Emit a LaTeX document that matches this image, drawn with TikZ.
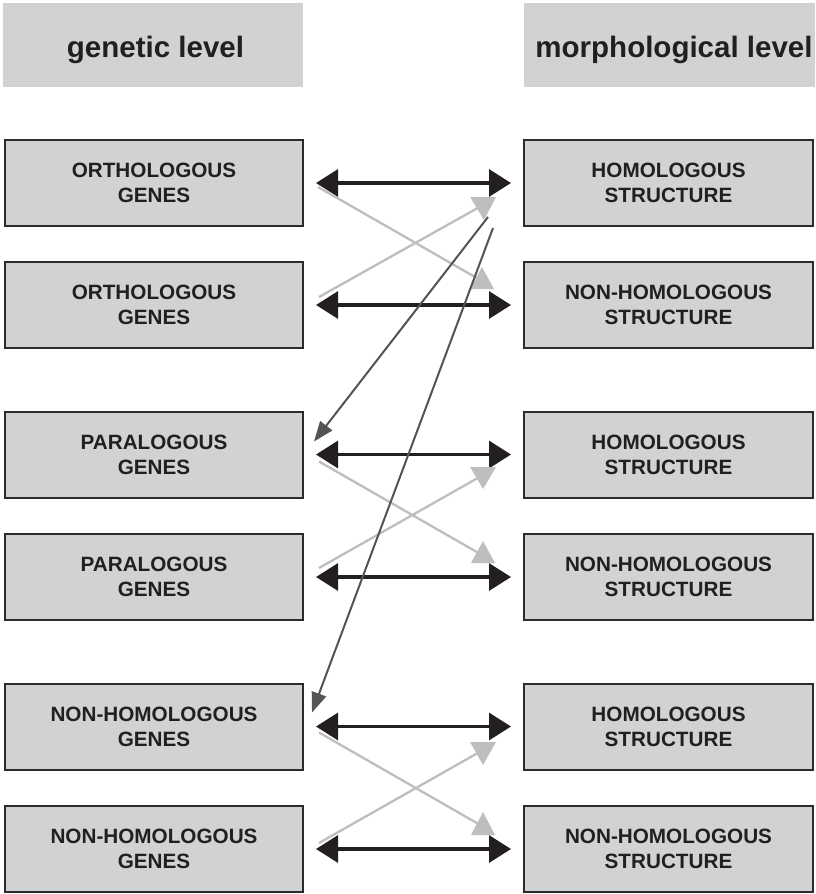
\documentclass[tikz,border=0pt]{standalone}
\usepackage{fontspec}
\setmainfont{Liberation Sans}
\usetikzlibrary{arrows.meta}
\definecolor{boxfill}{HTML}{D1D2D4}
\definecolor{boxline}{HTML}{2B2B2B}
\definecolor{blk}{HTML}{231F20}
\definecolor{lgray}{HTML}{BCBEC0}
\definecolor{dgray}{HTML}{535456}
\begin{document}
\begin{tikzpicture}[x=1pt,y=-1pt,
  hdr/.style={fill=boxfill, minimum width=#1, minimum height=84pt, inner sep=0pt},
  hdrtext/.style={text=blk, inner sep=0pt, font=\fontsize{29.5}{30}\selectfont\bfseries},
  gbox/.style={draw=boxline, line width=2pt, fill=boxfill, minimum width=298pt,
    minimum height=86pt, inner sep=0pt, align=center, text=blk,
    font=\fontsize{20.7}{25}\selectfont\bfseries},
  mbox/.style={gbox, minimum width=289pt},
  blkarrow/.style={draw=blk, line width=3.2pt, shorten <=12pt, shorten >=12pt,
    {Triangle[length=22pt,width=27pt]}-{Triangle[length=22pt,width=27pt]}},
  glink/.style={draw=lgray, line width=2.3pt},
  gtip/.style={fill=lgray},
  dlink/.style={draw=dgray, line width=2pt, -{Triangle[length=20pt,width=15pt]}}
]
\useasboundingbox (0,0) rectangle (815,894);
\fill[white] (0,0) rectangle (815,894);

% headers
\node[hdr=300pt] (hg) at (153,45) {};
\node[hdr=291pt] (hm) at (669.5,45) {};
\node[hdrtext] (hgt) at (155.5,50) {genetic level};
\node[hdrtext] (hmt) at (674,50) {morphological level};

% left boxes
\node[gbox] (L1) at (154,183)   {ORTHOLOGOUS\\GENES};
\node[gbox] (L2) at (154,305)   {ORTHOLOGOUS\\GENES};
\node[gbox] (L3) at (154,454.5) {PARALOGOUS\\GENES};
\node[gbox] (L4) at (154,577)   {PARALOGOUS\\GENES};
\node[gbox] (L5) at (154,726.5) {NON-HOMOLOGOUS\\GENES};
\node[gbox] (L6) at (154,849)   {NON-HOMOLOGOUS\\GENES};

% right boxes
\node[mbox] (R1) at (668.5,183)   {HOMOLOGOUS\\STRUCTURE};
\node[mbox] (R2) at (668.5,305)   {NON-HOMOLOGOUS\\STRUCTURE};
\node[mbox] (R3) at (668.5,454.5) {HOMOLOGOUS\\STRUCTURE};
\node[mbox] (R4) at (668.5,577)   {NON-HOMOLOGOUS\\STRUCTURE};
\node[mbox] (R5) at (668.5,726.5) {HOMOLOGOUS\\STRUCTURE};
\node[mbox] (R6) at (668.5,849)   {NON-HOMOLOGOUS\\STRUCTURE};

% black double arrows
\foreach \i in {1,...,6} \draw[blkarrow] (L\i.east) -- (R\i.west);

% light gray crossing arrows (free ends as coordinates)
% group 1
\coordinate (g1d) at (482,281);
\coordinate (g1u) at (483,205);
\draw[glink] ([shift={(14,4)}]L1.east) -- (g1d);
\fill[gtip] (482,267) -- (494,289) -- (470,289) -- cycle;
\draw[glink] ([shift={(15,-8)}]L2.east) -- (g1u);
\fill[gtip] (470,197) -- (496,197) -- (484,220) -- cycle;
% group 2
\coordinate (g2d) at (482,555);
\coordinate (g2u) at (483,475);
\draw[glink] ([shift={(15,7)}]L3.east) -- (g2d);
\fill[gtip] (483,541) -- (495,563) -- (471,563) -- cycle;
\draw[glink] ([shift={(15,-9)}]L4.east) -- (g2u);
\fill[gtip] (470,467) -- (496,467) -- (483,489) -- cycle;
% group 3
\coordinate (g3d) at (482,826);
\coordinate (g3u) at (483,750);
\draw[glink] ([shift={(15,6)}]L5.east) -- (g3d);
\fill[gtip] (483,812) -- (495,835) -- (471,835) -- cycle;
\draw[glink] ([shift={(15,-6)}]L6.east) -- (g3u);
\fill[gtip] (470,742) -- (496,742) -- (483,765) -- cycle;

% dark gray long arrows
\coordinate (d1) at (488,217);
\coordinate (d2) at (493,228);
\draw[dlink] (d1) -- ([shift={(10,-13)}]L3.east);
\draw[dlink] (d2) -- ([shift={(8,-14)}]L5.east);
\end{tikzpicture}
\end{document}
